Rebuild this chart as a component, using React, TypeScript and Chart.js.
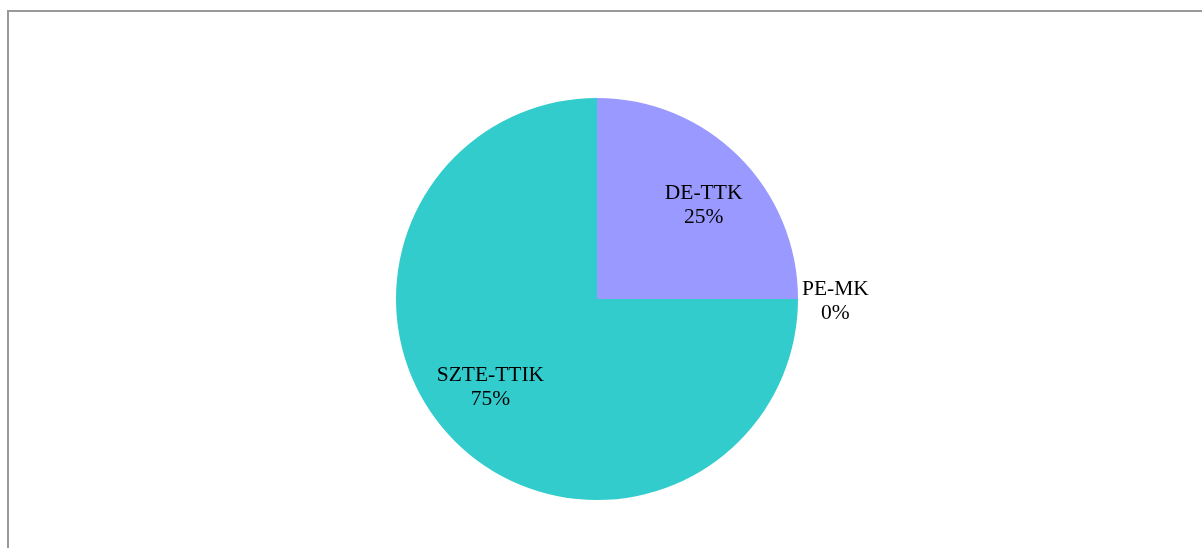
import React, { useEffect, useRef } from "react";
import { Chart, registerables } from "chart.js";

Chart.register(...registerables);

const categories: string[] = ["DE-TTK", "PE-MK", "SZTE-TTIK"];
const values: number[] = [1, 0, 3];
const percentLabels: string[] = ["25%", "0%", "75%"];
const sliceColors: string[] = ["#9999FF", "#9999FF", "#33CCCC"];

const FONT = "21.5px 'Liberation Serif', 'Times New Roman', serif";
const LINE_GAP = 24;

const labelPlugin = {
  id: "sliceLabels",
  afterDatasetsDraw(chart: any) {
    const ctx = chart.ctx as CanvasRenderingContext2D;
    const meta = chart.getDatasetMeta(0);
    ctx.save();
    ctx.font = FONT;
    ctx.fillStyle = "#000000";
    ctx.textAlign = "center";
    ctx.textBaseline = "middle";
    meta.data.forEach((arc: any, i: number) => {
      const p = arc.getProps(["x", "y", "startAngle", "endAngle", "outerRadius"], true);
      const mid = (p.startAngle + p.endAngle) / 2;
      const lines = [categories[i], percentLabels[i]];
      let cx: number;
      let cy: number;
      if (values[i] === 0) {
        const w = Math.max(...lines.map((l) => ctx.measureText(l).width));
        const ex = p.x + Math.cos(mid) * p.outerRadius;
        cx = ex + 4 + w / 2;
        cy = p.y + Math.sin(mid) * p.outerRadius + 2;
      } else {
        cx = p.x + Math.cos(mid) * p.outerRadius * 0.75;
        cy = p.y + Math.sin(mid) * p.outerRadius * 0.64 - 3;
      }
      ctx.fillText(lines[0], cx, cy - LINE_GAP / 2);
      ctx.fillText(lines[1], cx, cy + LINE_GAP / 2);
    });
    ctx.restore();
  },
};

export default function App() {
  const canvasRef = useRef<HTMLCanvasElement | null>(null);

  useEffect(() => {
    const canvas = canvasRef.current;
    if (!canvas) return;
    const chart = new Chart(canvas, {
      type: "pie",
      data: {
        labels: categories,
        datasets: [
          {
            data: values,
            backgroundColor: sliceColors,
            borderWidth: 0,
          },
        ],
      },
      options: {
        responsive: false,
        animation: false,
        layout: { padding: { top: 98, bottom: 48, left: 396, right: 404 } },
        plugins: {
          legend: { display: false },
          tooltip: { enabled: false },
        },
      },
      plugins: [labelPlugin],
    });
    return () => chart.destroy();
  }, []);

  return (
    <div style={{ position: "fixed", left: 0, top: 0, width: 1202, height: 548, background: "#fff", overflow: "hidden" }}>
      <div
        style={{
          position: "absolute",
          left: 7,
          top: 10,
          width: 1400,
          height: 800,
          borderLeft: "2px solid #999999",
          borderTop: "2px solid #999999",
          boxSizing: "border-box",
        }}
      />
      <canvas
        ref={canvasRef}
        width={1202}
        height={548}
        style={{ position: "absolute", left: 0, top: 0, width: 1202, height: 548 }}
      />
    </div>
  );
}
